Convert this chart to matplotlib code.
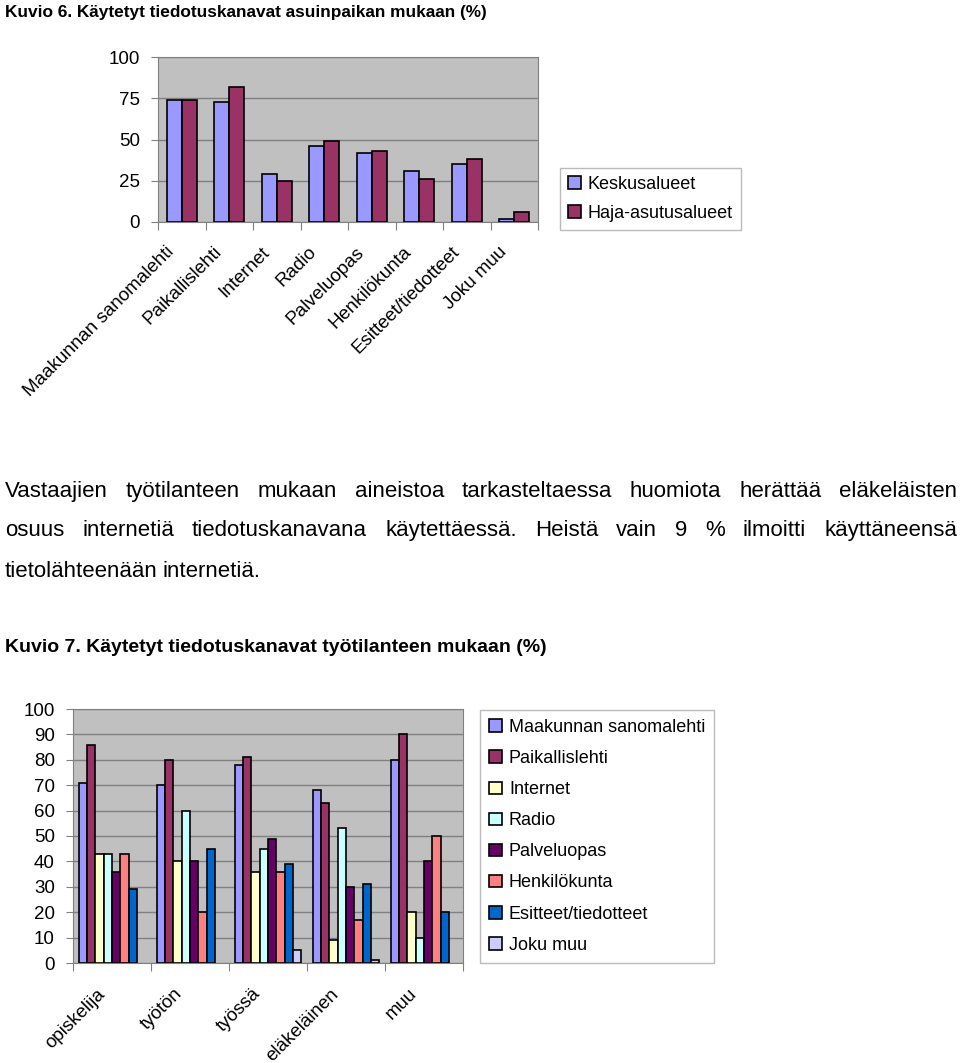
import matplotlib
matplotlib.use("Agg")
import matplotlib.pyplot as plt
from matplotlib import font_manager
from matplotlib.patches import Patch
from matplotlib.transforms import ScaledTranslation
import numpy as np

# --- data -------------------------------------------------------------
kanavat = ["Maakunnan sanomalehti", "Paikallislehti", "Internet", "Radio",
           "Palveluopas", "Henkilökunta", "Esitteet/tiedotteet", "Joku muu"]
keskusalueet = [74, 73, 29, 46, 42, 31, 35, 2]
haja_asutusalueet = [74, 82, 25, 49, 43, 26, 38, 6]
alueet = ["Keskusalueet", "Haja-asutusalueet"]

tyotilanne = ["opiskelija", "työtön", "työssä", "eläkeläinen", "muu"]
maakunnan_sanomalehti = [71, 70, 78, 68, 80]
paikallislehti = [86, 80, 81, 63, 90]
internet = [43, 40, 36, 9, 20]
radio = [43, 60, 45, 53, 10]
palveluopas = [36, 40, 49, 30, 40]
henkilokunta = [43, 20, 36, 17, 50]
esitteet = [29, 45, 39, 31, 20]
joku_muu = [0, 0, 5, 1, 0]

title1 = "Kuvio 6. Käytetyt tiedotuskanavat asuinpaikan mukaan (%)"
title2 = "Kuvio 7. Käytetyt tiedotuskanavat työtilanteen mukaan (%)"
body_lines = [
    "Vastaajien työtilanteen mukaan aineistoa tarkasteltaessa huomiota herättää eläkeläisten",
    "osuus internetiä tiedotuskanavana käytettäessä. Heistä vain 9 % ilmoitti käyttäneensä",
    "tietolähteenään internetiä.",
]

colors = ["#9999FF", "#993366", "#FFFFCC", "#CCFFFF",
          "#660066", "#FF8080", "#0066CC", "#CCCCFF"]
bg = "#C0C0C0"
grid_c = "#808080"

plt.rcParams['font.family'] = ['Liberation Sans', 'DejaVu Sans']
installed = {f.name for f in font_manager.fontManager.ttflist}
narrow = 'Liberation Sans Narrow' if 'Liberation Sans Narrow' in installed else 'Liberation Sans'

W, H = 960, 1063
fig = plt.figure(figsize=(W / 100, H / 100), dpi=100)


def fx(px):
    return px / W


def fy(py):
    return 1 - py / H


def style_axes(ax, ymax, step):
    ax.set_facecolor(bg)
    ax.set_ylim(0, ymax)
    ax.set_yticks(np.arange(0, ymax + 1, step))
    ax.yaxis.grid(True, color=grid_c, lw=1)
    ax.set_axisbelow(True)
    for s in ax.spines.values():
        s.set_color(grid_c)
    ax.tick_params(axis='y', colors=grid_c, labelcolor='black', labelsize=13.5,
                   length=5, pad=8)


def bar_groups(ax, series, group_w):
    n = len(series)
    ncat = len(series[0])
    x = np.arange(ncat)
    w = group_w / n
    for i, vals in enumerate(series):
        vals = np.array(vals, dtype=float)
        keep = vals > 0
        ax.bar((x - group_w / 2 + w * (i + 0.5))[keep], vals[keep], w, color=colors[i],
               edgecolor='black', lw=1.2, zorder=3)
    ax.set_xlim(-0.5, ncat - 0.5)
    # tick marks between categories, labels at centres
    ax.set_xticks(np.arange(-0.5, ncat), minor=False)
    ax.set_xticklabels([])
    ax.tick_params(axis='x', colors=grid_c, length=6)
    ax.set_xticks(x, minor=True)
    ax.tick_params(axis='x', which='minor', length=0, labelcolor='black')


def shift_labels(ax, dx_px, dy_px):
    off = ScaledTranslation(dx_px / 100, dy_px / 100, fig.dpi_scale_trans)
    for lab in ax.get_xticklabels(minor=True):
        lab.set_transform(lab.get_transform() + off)


# --- chart 1 ----------------------------------------------------------
ax1 = fig.add_axes([fx(158), fy(222), fx(380), 165 / H])
style_axes(ax1, 100, 25)
bar_groups(ax1, [keskusalueet, haja_asutusalueet], 0.63)
ax1.set_xticklabels(kanavat, minor=True, rotation=45, ha='right',
                    rotation_mode='anchor', fontsize=13.5)
ax1.tick_params(axis='x', which='minor', pad=14)
shift_labels(ax1, -16, -2)
ax1.legend(handles=[Patch(fc=colors[i], ec='black', lw=1.2, label=alueet[i]) for i in range(2)],
           loc='upper left', bbox_to_anchor=(fx(560), fy(168)), bbox_transform=fig.transFigure,
           borderaxespad=0, fancybox=False, edgecolor='#BBBBBB', framealpha=1,
           fontsize=13, handlelength=0.7, handleheight=0.7, handletextpad=0.4,
           labelspacing=0.65, borderpad=0.45)

# --- chart 2 ----------------------------------------------------------
ax2 = fig.add_axes([fx(73), fy(963), fx(390), 254 / H])
style_axes(ax2, 100, 10)
bar_groups(ax2, [maakunnan_sanomalehti, paikallislehti, internet, radio,
                 palveluopas, henkilokunta, esitteet, joku_muu], 0.85)
ax2.set_xticklabels(tyotilanne, minor=True, rotation=45, ha='right',
                    rotation_mode='anchor', fontsize=13.5)
ax2.tick_params(axis='x', which='minor', pad=16)
shift_labels(ax2, -16, 0)
ax2.legend(handles=[Patch(fc=colors[i], ec='black', lw=1.2, label=kanavat[i]) for i in range(8)],
           loc='upper left', bbox_to_anchor=(fx(480), fy(710)), bbox_transform=fig.transFigure,
           borderaxespad=0, fancybox=False, edgecolor='#BBBBBB', framealpha=1,
           fontsize=13, handlelength=0.7, handleheight=0.7, handletextpad=0.4,
           labelspacing=0.78, borderpad=0.5)

# --- titles and body text ---------------------------------------------
fig.text(fx(5), fy(13), title1, fontsize=12.4, fontweight='bold', va='center')
fig.text(fx(5), fy(648), title2, fontsize=14, fontweight='bold', va='center')

renderer = fig.canvas.get_renderer()
left, right = 5, 957
baselines = [497, 536, 577]
for li, (line, base) in enumerate(zip(body_lines, baselines)):
    words = line.split(" ")
    texts = [fig.text(0, fy(base), wd, fontsize=16, family=[narrow, 'DejaVu Sans'],
                      va='baseline') for wd in words]
    widths = [t.get_window_extent(renderer).width for t in texts]
    last = li == len(body_lines) - 1
    if last or len(words) == 1:
        gap = texts[0].get_window_extent(renderer).height * 0.22
    else:
        gap = (right - left - sum(widths)) / (len(words) - 1)
    xpos = left
    for t, wdt in zip(texts, widths):
        t.set_x(fx(xpos))
        xpos += wdt + gap

fig.savefig("out.png", dpi=100)
